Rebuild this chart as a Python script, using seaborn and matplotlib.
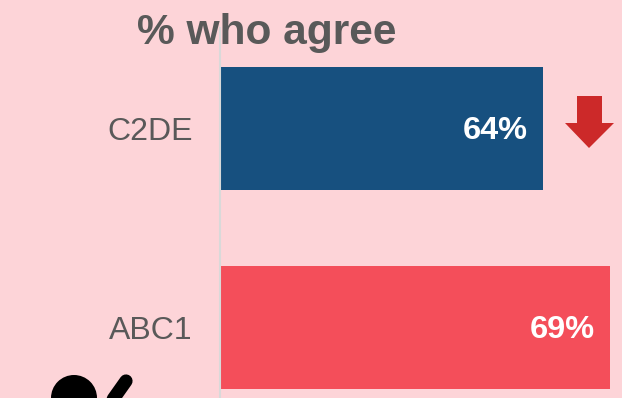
import matplotlib
matplotlib.use("Agg")
import matplotlib.pyplot as plt
from matplotlib.patches import Circle, Polygon
import pandas as pd
import seaborn as sns

groups = ["C2DE", "ABC1"]
agree_pct = [64, 69]
bar_colors = ["#17507F", "#F44E5A"]
bg = "#FDD4D8"
grey = "#595959"

sns.set_theme(style="white")
plt.rcParams["font.family"] = ["Liberation Sans", "DejaVu Sans"]

W, H = 622, 398
fig = plt.figure(figsize=(W / 100, H / 100), dpi=100, facecolor=bg)
ax = fig.add_axes([221 / W, 0, (W - 221) / W, 1], facecolor=bg)

df = pd.DataFrame({"group": groups, "agree": agree_pct})
sns.barplot(data=df, y="group", x="agree", hue="group", palette=bar_colors,
            width=0.618, legend=False, saturation=1, linewidth=0, ax=ax)

# Baseline sits just left of the bars and stops below the top edge
for side in ["top", "right", "bottom"]:
    ax.spines[side].set_visible(False)
ax.spines["left"].set_position(("outward", 0.6))
ax.spines["left"].set_color("#D9D9D9")
ax.spines["left"].set_linewidth(1.5)

# Truncated value axis, starting at 40%
ax.set_xlim(40, 40 + (W - 221) / 13.4)
ax.set_ylim(1.354, -0.6457)
ax.spines["left"].set_bounds(-0.505, 1.354)
ax.set_xlabel("")
ax.set_ylabel("")
ax.set_xticks([])
ax.set_yticks(range(len(groups)))
ax.set_yticklabels(groups, fontsize=23, color=grey)
ax.tick_params(axis="y", length=0, pad=20)

for i, v in enumerate(agree_pct):
    ax.annotate(f"{v}%", xy=(v, i), xytext=(-15, -2), textcoords="offset pixels",
                ha="right", va="center", fontsize=23.4, fontweight="bold", color="white")

# Overlay in pixel coordinates for the title, arrow and icon
ov = fig.add_axes([0, 0, 1, 1], facecolor="none")
ov.set_xlim(0, W)
ov.set_ylim(H, 0)
ov.axis("off")
ov.text(137, 33, "% who agree", fontsize=30.6, fontweight="bold", color=grey,
        ha="left", va="center")
ov.add_patch(Polygon([(577, 96), (602, 96), (602, 123), (614, 123), (589, 148),
                      (565, 123), (577, 123)], closed=True,
                     facecolor="#CC2929", edgecolor="none"))
ov.add_patch(Circle((74, 398), 23, color="black", lw=0))
ov.plot([126, 109], [381, 405], color="black", lw=9.5, solid_capstyle="round")

fig.savefig("out.png", dpi=100, facecolor=bg)
